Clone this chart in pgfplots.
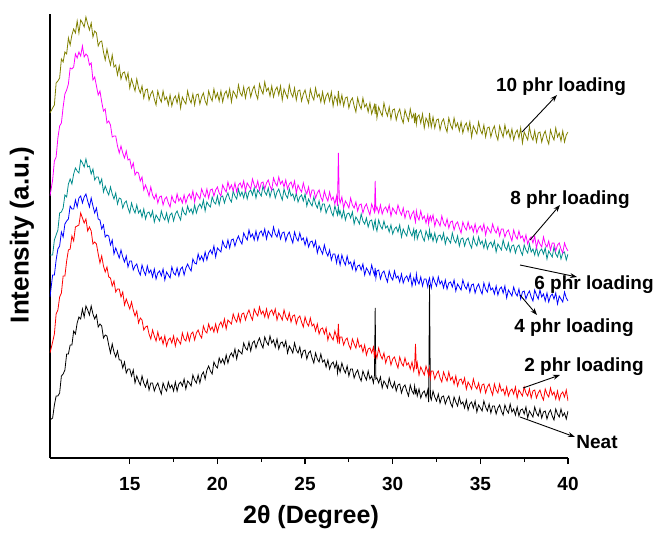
\documentclass[border=0pt]{standalone}
\usepackage{fontspec}
\setmainfont{Liberation Sans}
\usepackage{pgfplots}
\pgfplotsset{compat=1.18}
\usepackage{pgfplotstable}
\usetikzlibrary{arrows.meta}

\definecolor{xolive}{RGB}{128,128,0}
\definecolor{xmag}{RGB}{255,0,255}
\definecolor{xteal}{RGB}{0,140,140}
\definecolor{xblue}{RGB}{0,0,255}
\definecolor{xred}{RGB}{255,0,0}

% intensities (arbitrary units, offset traces)
\pgfplotstableread{
x neat p2 p4 p6 p8 p10
10.45 38 105 161 203 262 345
10.6 40 116 183 203 278 350
10.7 53 124 183 218 297 353
10.8 62 144 198 223 301 375
10.9 62 148 209 228 320 377
11.0 65 161 212 245 332 380
11.1 82 165 226 246 335 399
11.2 84 182 221 250 351 396
11.3 88 182 234 263 364 406
11.4 104 197 237 261 368 404
11.5 104 208 239 274 374 420
11.6 113 209 252 279 390 413
11.7 113 222 249 274 389 423
11.8 127 217 249 284 391 429
11.9 124 231 258 290 404 425
12.0 135 232 251 287 400 437
12.1 141 233 260 285 406 425
12.2 139 245 262 298 402 438
12.3 149 240 255 295 412 435
12.4 141 235 261 291 401 431
12.5 152 239 264 299 404 441
12.6 148 227 257 291 402 434
12.7 143 231 251 292 393 428
12.8 152 227 260 284 395 435
12.9 144 214 252 289 378 421
13.0 139 216 245 278 381 427
13.1 143 214 250 281 372 425
13.2 131 204 239 281 363 412
13.3 134 195 238 274 367 416
13.4 132 202 229 279 356 417
13.5 120 192 233 266 347 406
13.6 123 186 221 272 349 398
13.7 122 191 223 267 335 409
13.8 113 181 222 263 337 400
13.9 105 180 213 271 333 393
14.0 114 172 218 264 321 403
14.1 106 177 204 259 322 391
14.2 101 166 210 265 322 393
14.3 107 169 205 254 312 383
14.4 98 169 200 260 305 392
14.5 98 161 208 259 312 379
14.6 90 166 201 250 305 385
14.7 96 153 196 255 300 386
14.8 85 159 202 257 307 378
14.9 89 154 191 250 298 385
15.0 89 149 197 245 299 370
15.1 82 156 197 255 290 379
15.2 88 148 188 249 295 373
15.3 75 142 192 245 283 367
15.4 82 147 194 253 286 379
15.5 77 135 187 245 285 370
15.6 73 140 183 248 277 365
15.7 82 138 193 241 281 372
15.8 75 128 187 249 268 360
15.9 71 131 183 239 273 368
16.0 78 132 192 245 268 369
16.1 68 124 185 246 262 358
16.2 75 119 188 241 271 364
16.3 75 128 181 247 263 367
16.4 67 122 189 236 259 359
16.5 72 117 179 243 264 353
16.6 75 126 185 240 255 367
16.7 69 118 187 237 261 360
16.8 64 121 182 247 262 356
16.9 75 114 189 241 253 367
17.0 70 122 178 238 259 358
17.1 67 112 186 245 261 361
17.2 76 118 183 236 255 353
17.3 70 120 180 243 251 363
17.4 73 115 191 245 262 352
17.5 67 122 185 237 257 359
17.6 76 112 183 244 255 362
17.7 67 120 190 247 264 355
17.8 74 117 182 242 257 364
17.9 76 114 189 238 260 350
18.0 72 125 191 250 255 361
18.1 79 119 183 245 263 357
18.2 69 117 190 243 255 354
18.3 77 125 194 252 261 367
18.4 75 117 190 246 264 359
18.5 72 124 187 249 259 355
18.6 83 126 199 244 267 364
18.7 78 118 195 253 256 353
18.8 75 125 194 245 265 363
18.9 83 128 204 251 262 364
19.0 75 123 198 254 259 354
19.1 83 120 202 250 269 361
19.2 86 132 197 258 264 365
19.3 79 127 206 247 261 357
19.4 88 125 198 256 269 353
19.5 92 134 205 253 260 367
19.6 87 128 208 251 268 361
19.7 84 131 204 261 269 357
19.8 96 126 212 256 262 369
19.9 92 134 201 254 268 360
20.0 90 126 210 262 271 365
20.1 100 133 208 253 265 357
20.2 95 136 206 261 262 367
20.3 99 131 217 262 273 356
20.4 94 139 212 255 269 364
20.5 103 129 210 261 266 367
20.6 95 138 218 265 276 360
20.7 102 136 210 259 269 369
20.8 105 134 218 256 273 356
20.9 101 144 219 267 267 367
21.0 109 139 212 262 275 364
21.1 99 136 218 259 266 360
21.2 108 144 222 269 273 373
21.3 106 136 217 262 275 365
21.4 104 144 214 266 270 362
21.5 115 145 225 260 277 371
21.6 110 138 221 268 267 360
21.7 108 144 218 259 275 369
21.8 116 148 228 266 272 371
21.9 107 142 221 268 269 361
22.0 115 138 224 263 279 368
22.1 117 149 218 270 273 372
22.2 110 145 227 260 270 364
22.3 116 142 218 268 277 359
22.4 120 151 225 265 268 374
22.5 114 144 227 262 275 368
22.6 110 147 222 272 276 364
22.7 121 141 229 266 269 376
22.8 116 149 219 263 275 367
22.9 113 140 227 270 278 370
23.0 122 146 224 261 272 362
23.1 115 148 221 268 268 372
23.2 118 143 231 269 280 361
23.3 111 149 224 260 275 368
23.4 119 138 221 266 272 371
23.5 109 145 228 269 281 363
23.6 115 142 219 263 274 372
23.7 116 138 225 258 277 358
23.8 111 148 226 269 271 369
23.9 117 141 217 263 278 364
24.0 105 138 223 260 269 360
24.1 112 145 226 269 274 373
24.2 109 136 220 262 276 365
24.3 105 142 215 264 270 361
24.4 115 143 226 258 277 370
24.5 108 134 220 265 265 358
24.6 105 140 217 256 273 367
24.7 111 142 225 261 269 368
24.8 101 136 218 263 266 357
24.9 107 131 220 257 275 364
25.0 108 141 213 264 268 368
25.1 99 135 220 252 264 360
25.2 105 132 211 259 271 355
25.3 107 140 216 255 261 369
25.4 100 132 217 252 268 362
25.5 95 134 211 261 268 358
25.6 105 127 217 254 260 370
25.7 99 134 205 250 265 361
25.8 96 124 212 257 268 364
25.9 104 129 208 247 261 356
26.0 96 130 204 254 257 366
26.1 98 124 213 254 267 355
26.2 91 130 206 245 261 362
26.3 98 118 202 250 257 365
26.4 89 125 208 253 266 357
26.5 94 121 198 246 258 366
26.6 96 118 204 242 261 352
26.7 90 127 204 252 254 362
26.8 96 121 195 246 262 358
26.85 85 117 201 243 252 354
26.9 92 134 203 251 305 367
26.95 89 114 197 244 260 359
27.0 86 121 193 247 255 354
27.1 95 121 203 240 261 363
27.2 89 113 197 248 250 352
27.3 85 118 193 238 257 360
27.4 92 120 202 244 254 361
27.5 82 113 194 245 250 350
27.6 89 109 196 240 260 357
27.7 89 119 189 246 253 360
27.8 80 114 197 234 250 352
27.9 85 110 187 241 256 346
28.0 88 119 192 238 247 360
28.1 81 111 193 234 253 353
28.2 77 113 188 244 254 349
28.3 87 106 194 237 245 360
28.4 82 113 183 234 251 351
28.5 78 103 190 240 254 354
28.6 87 109 187 231 248 346
28.7 79 110 183 237 243 355
28.8 82 105 193 238 254 344
28.9 75 111 186 229 249 350
28.96 83 100 183 235 246 353
29.0 150 107 190 238 277 344
29.04 79 104 180 231 248 354
29.1 80 100 187 227 251 340
29.2 75 110 188 238 245 351
29.3 81 103 179 232 253 346
29.4 70 99 185 229 244 342
29.5 77 105 187 237 249 355
29.6 74 95 181 230 251 347
29.7 70 101 176 232 246 342
29.8 80 102 187 226 253 351
29.9 73 93 181 233 242 339
30.0 70 99 178 224 250 348
30.1 76 101 187 229 247 349
30.2 67 95 180 231 244 338
30.3 73 90 182 226 253 345
30.4 74 101 176 233 247 349
30.5 65 95 184 221 243 340
30.6 71 92 175 229 250 335
30.7 73 100 180 225 240 348
30.8 67 93 182 222 247 342
30.9 62 95 177 232 247 337
31.0 73 89 184 226 239 349
31.1 67 96 172 222 244 340
31.2 64 87 180 229 247 344
31.25 72 92 177 220 240 335
31.3 65 114 174 227 236 345
31.35 68 89 184 228 247 334
31.4 62 95 178 219 242 341
31.5 69 83 174 225 238 343
31.6 60 91 181 228 247 335
31.7 65 87 172 221 239 344
31.8 67 83 179 217 242 330
31.9 61 92 179 227 235 340
32.0 68 86 171 222 243 336
32.05 56 82 177 219 234 332
32.1 173 89 180 228 240 345
32.15 61 80 174 221 242 337
32.2 58 87 170 224 237 331
32.3 67 87 181 217 243 341
32.4 61 79 176 225 232 330
32.5 57 84 172 216 239 338
32.6 64 87 181 222 236 339
32.7 55 80 174 223 232 328
32.8 61 76 177 218 242 336
32.9 62 86 170 225 235 339
33.0 54 81 178 214 232 331
33.1 59 77 169 221 239 326
33.2 62 86 175 218 230 340
33.3 55 78 176 215 236 333
33.4 51 81 171 225 237 329
33.5 61 74 178 218 228 340
33.6 56 82 167 215 234 331
33.7 52 72 174 222 236 335
33.8 61 78 171 212 230 327
33.9 54 79 168 219 225 336
34.0 56 74 178 220 236 325
34.1 50 80 172 212 231 332
34.2 58 69 169 218 228 335
34.3 48 76 175 220 236 327
34.4 54 73 166 214 229 336
34.5 56 69 173 210 232 321
34.6 50 79 174 221 226 332
34.7 57 72 165 215 234 328
34.8 46 69 171 212 225 324
34.9 53 75 174 221 230 336
35.0 50 66 168 214 232 328
35.1 47 73 164 217 227 324
35.2 57 74 175 210 234 333
35.3 51 65 169 218 223 321
35.4 47 71 166 209 231 330
35.5 54 74 175 214 228 331
35.6 45 68 168 216 225 321
35.7 52 63 170 211 234 328
35.8 52 74 164 217 228 332
35.9 44 68 172 206 225 323
36.0 50 65 163 214 231 318
36.1 53 74 169 211 222 332
36.2 47 67 171 208 229 326
36.3 43 69 165 218 229 321
36.4 53 63 172 211 221 333
36.5 48 71 160 208 226 324
36.6 45 62 168 215 228 328
36.7 54 67 165 206 222 320
36.8 46 69 162 212 217 329
36.9 49 64 171 213 228 318
37.0 43 71 165 205 222 325
37.1 51 60 162 211 219 328
37.2 42 68 169 213 227 320
37.3 48 65 159 207 220 330
37.4 49 62 166 203 222 315
37.5 44 71 167 213 216 326
37.6 51 65 159 208 223 322
37.7 40 62 164 205 214 318
37.8 47 69 167 214 219 331
37.9 44 60 161 206 221 322
38.0 41 67 157 209 215 318
38.1 51 68 168 203 222 327
38.2 45 60 163 211 210 316
38.3 42 65 159 202 218 325
38.4 49 68 168 207 214 326
38.5 40 62 161 209 211 316
38.6 46 58 164 204 221 323
38.7 47 69 157 210 214 327
38.8 39 64 165 199 211 319
38.9 45 61 156 207 217 314
39.0 48 70 162 204 208 328
39.1 42 63 164 201 215 322
39.2 38 66 159 211 215 318
39.3 49 59 165 204 207 330
39.4 44 67 154 201 213 321
39.5 41 58 162 208 215 325
39.6 49 64 159 199 209 317
39.7 42 66 156 205 205 327
39.8 45 61 166 206 215 316
39.9 39 68 160 198 210 323
40.0 47 57 157 204 207 326
}\xrd

\newcommand{\annfont}{\fontsize{19bp}{22bp}\selectfont\bfseries}

\begin{document}
\begin{tikzpicture}
\begin{axis}[
  scale only axis, width=518bp, height=444bp,
  xmin=10.45, xmax=40, ymin=0, ymax=444,
  axis x line=bottom, axis y line=left,
  axis line style={-, line width=1.2bp},
  ytick=\empty,
  xtick={15,20,...,40}, minor x tick num=1,
  tick align=outside,
  major tick length=6bp, minor tick length=4bp,
  tick style={line width=1.2bp, black},
  /pgf/number format/assume math mode=true,
  ticklabel style={font=\fontsize{19bp}{22bp}\selectfont\bfseries},
  xticklabel style={yshift=-10bp},
  every axis plot/.append style={line width=0.8bp, mark=none},
]
\addplot[black] table[x=x, y=neat] {\xrd};
\addplot[xred] table[x=x, y=p2] {\xrd};
\addplot[xblue] table[x=x, y=p4] {\xrd};
\addplot[xteal] table[x=x, y=p6] {\xrd};
\addplot[xmag] table[x=x, y=p8] {\xrd};
\addplot[xolive] table[x=x, y=p10] {\xrd};
\coordinate (O) at (rel axis cs:0,0);
\end{axis}

% page frame and annotations, in reference pixels (origin at lower left)
\begin{scope}[x=1bp, y=1bp, shift={(O)}, shift={(-50,-73)}]
\path (0,0) rectangle (658,531);
\node[font=\fontsize{26bp}{30bp}\selectfont\bfseries, rotate=90] at (22,296) {Intensity (a.u.)};
\node[font=\fontsize{25bp}{30bp}\selectfont\bfseries] at (311,14) {2θ (Degree)};
\begin{scope}[font=\annfont]
\node at (561,444) {10 phr loading};
\node at (570,331) {8 phr loading};
\node at (594,246) {6 phr loading};
\node at (574,203) {4 phr loading};
\node at (584,164) {2 phr loading};
\node at (597,89) {Neat};
\end{scope}
\begin{scope}[-{Stealth[length=7bp,width=5bp]}, line width=0.9bp]
\draw (522,399) -- (557,436);
\draw (530,291) -- (560,326);
\draw (520,266) -- (577,254);
\draw (520,236) -- (537,216);
\draw (523,143) -- (560,156);
\draw (520,114) -- (575,94);
\end{scope}
\end{scope}
\end{tikzpicture}
\end{document}
